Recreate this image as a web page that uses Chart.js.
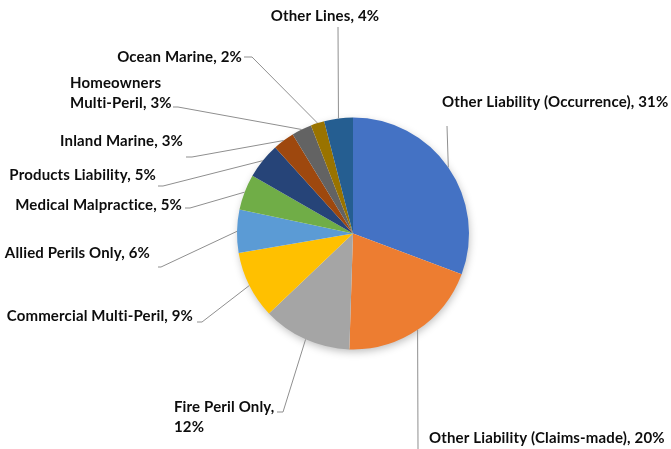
<!DOCTYPE html>
<html>
<head>
<meta charset="utf-8">
<script src="https://cdn.jsdelivr.net/npm/chart.js@4"></script>
<style>
  html, body { margin: 0; padding: 0; background: #fff; }
  #wrap { width: 671px; height: 449px; position: relative; }
</style>
</head>
<body>
<div id="wrap"><canvas id="graficoPie"></canvas></div>
<script>
// datos (porcentaje de cada linea)
const categories = [
    'Other Liability (Occurrence)',
    'Other Liability (Claims-made)',
    'Fire Peril Only',
    'Commercial Multi-Peril',
    'Allied Perils Only',
    'Medical Malpractice',
    'Products Liability',
    'Inland Marine',
    'Homeowners Multi-Peril',
    'Ocean Marine',
    'Other Lines'
];
const shares = [30.7, 19.8, 12.4, 9.4, 6.0, 5.0, 5.0, 3.0, 2.8, 1.9, 4.0];
const colors = ['#4472C4', '#ED7D31', '#A5A5A5', '#FFC000', '#5B9BD5', '#70AD47',
                '#264478', '#9E480E', '#636363', '#997300', '#255E91'];

// posicion de etiquetas (offset desde el centro del pie) y quiebre de lineas
const labelLayout = [
    { x: 89,   y: -131.5, align: 'left',   wrap: 0, leader: [[94, -107.5]] },
    { x: 76,   y: 204.5,  align: 'left',   wrap: 0, leader: [[65, 215.5]] },
    { x: -179, y: 173.5,  align: 'left',   wrap: 3, leader: [[-76, 178.5], [-70, 178.5]] },
    { x: -160, y: 82.5,   align: 'right',  wrap: 0, leader: [[-156, 88.5], [-151, 88.5]] },
    { x: -203, y: 19.5,   align: 'right',  wrap: 0, leader: [[-195, 33.5], [-192, 33.5]] },
    { x: -171, y: -28.5,  align: 'right',  wrap: 0, leader: [[-168, -25.5], [-163, -25.5]] },
    { x: -197, y: -58.5,  align: 'right',  wrap: 0, leader: [[-195, -47.5], [-190, -47.5]] },
    { x: -170, y: -92.5,  align: 'right',  wrap: 0, leader: [[-167, -76.5], [-161, -76.5]] },
    { x: -283, y: -150.5, align: 'left',   wrap: 1, leader: [[-180, -126.5], [-175, -126.5]] },
    { x: -111, y: -176.5, align: 'right',  wrap: 0, leader: [[-109, -176.5], [-101, -176.5]] },
    { x: -28,  y: -217.5, align: 'center', wrap: 0, leader: [[-15, -206.5]] }
];

const sombra = {
    id: 'sombra',
    beforeDatasetsDraw(chart) {
        const arc = chart.getDatasetMeta(0).data[0];
        const ctx = chart.ctx;
        ctx.save();
        ctx.shadowColor = 'rgba(0,0,0,0.28)';
        ctx.shadowBlur = 9;
        ctx.shadowOffsetX = 1;
        ctx.shadowOffsetY = 3;
        ctx.fillStyle = '#ffffff';
        ctx.beginPath();
        ctx.arc(arc.x, arc.y, arc.outerRadius - 1, 0, Math.PI * 2);
        ctx.fill();
        ctx.restore();
    }
};

const etiquetas = {
    id: 'etiquetas',
    afterDatasetsDraw(chart) {
        const ctx = chart.ctx;
        const arcs = chart.getDatasetMeta(0).data;
        ctx.save();
        arcs.forEach((arc, i) => {
            const cx = arc.x, cy = arc.y;
            const mid = (arc.startAngle + arc.endAngle) / 2;
            const px = cx + Math.cos(mid) * arc.outerRadius;
            const py = cy + Math.sin(mid) * arc.outerRadius;
            const lay = labelLayout[i];

            // linea guia
            ctx.strokeStyle = '#8f8f8f';
            ctx.lineWidth = 1;
            ctx.beginPath();
            ctx.moveTo(cx + lay.leader[0][0], cy + lay.leader[0][1]);
            for (let k = 1; k < lay.leader.length; k++) {
                ctx.lineTo(cx + lay.leader[k][0], cy + lay.leader[k][1]);
            }
            ctx.lineTo(px, py);
            ctx.stroke();

            // texto
            const text = categories[i] + ', ' + Math.round(shares[i]) + '%';
            let lines = [text];
            if (lay.wrap > 0) {
                const words = text.split(' ');
                lines = [words.slice(0, lay.wrap).join(' '), words.slice(lay.wrap).join(' ')];
            }
            ctx.font = 'bold 15px Lato';
            ctx.letterSpacing = '0.15px';
            ctx.fillStyle = '#0d0d0d';
            ctx.textBaseline = 'middle';
            ctx.textAlign = lay.align;
            lines.forEach((ln, j) => {
                ctx.fillText(ln, cx + lay.x, cy + lay.y + j * 20);
            });
        });
        ctx.restore();
    }
};

const ctx = document.getElementById('graficoPie').getContext('2d');
new Chart(ctx, {
    type: 'pie',
    data: {
        labels: categories,
        datasets: [{
            data: shares,
            backgroundColor: colors,
            borderWidth: 0
        }]
    },
    options: {
        responsive: true,
        maintainAspectRatio: false,
        animation: false,
        layout: {
            padding: { top: 117.5, bottom: 99.5, left: 237, right: 202 }
        },
        plugins: {
            legend: { display: false },
            tooltip: { enabled: false }
        }
    },
    plugins: [sombra, etiquetas]
});
</script>
</body>
</html>
